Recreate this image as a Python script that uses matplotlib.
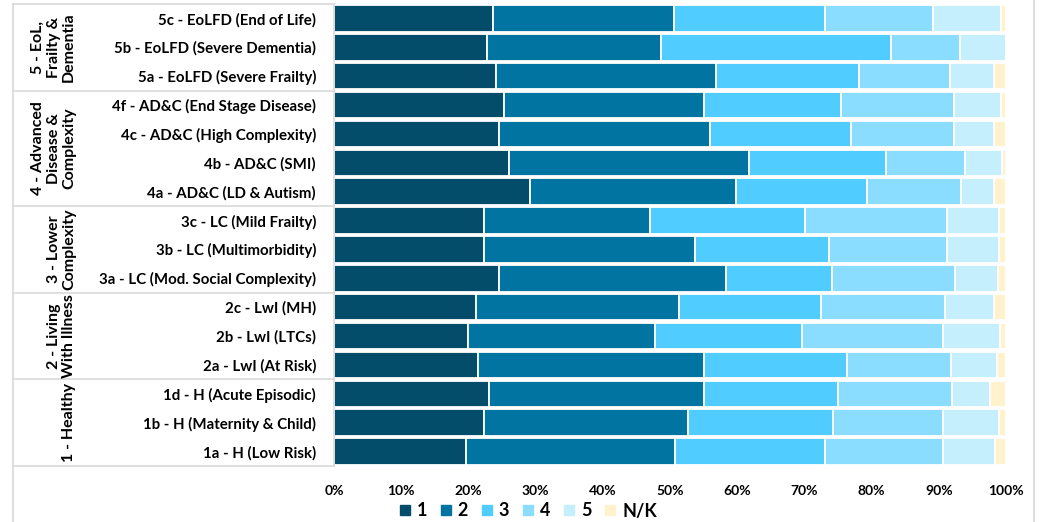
import numpy as np
import matplotlib.pyplot as plt
from matplotlib.lines import Line2D

plt.rcParams['font.family'] = ['Lato', 'DejaVu Sans']
plt.rcParams['font.weight'] = 'bold'

# rows from top to bottom
categories = ['5c - EoLFD (End of Life)', '5b - EoLFD (Severe Dementia)', '5a - EoLFD (Severe Frailty)',
              '4f - AD&C (End Stage Disease)', '4c - AD&C (High Complexity)', '4b - AD&C (SMI)',
              '4a - AD&C (LD & Autism)', '3c - LC (Mild Frailty)', '3b - LC (Multimorbidity)',
              '3a - LC (Mod. Social Complexity)', '2c - LwI (MH)', '2b - LwI (LTCs)', '2a - LwI (At Risk)',
              '1d - H (Acute Episodic)', '1b - H (Maternity & Child)', '1a - H (Low Risk)']

s1 = [23.6, 22.8, 24.1, 25.3, 24.5, 26.1, 29.2, 22.4, 22.4, 24.6, 21.2, 20.0, 21.4, 23.0, 22.4, 19.7]
s2 = [27.0, 25.8, 32.7, 29.7, 31.4, 35.6, 30.6, 24.6, 31.3, 33.8, 30.2, 27.8, 33.6, 32.0, 30.3, 31.0]
s3 = [22.5, 34.3, 21.3, 20.4, 21.1, 20.5, 19.5, 23.1, 20.0, 15.7, 21.0, 21.9, 21.4, 20.0, 21.5, 22.3]
s4 = [16.1, 10.3, 13.6, 16.9, 15.2, 11.7, 14.0, 21.1, 17.5, 18.3, 18.5, 20.9, 15.4, 17.0, 16.4, 17.6]
s5 = [10.0, 6.8, 6.5, 7.0, 6.0, 5.5, 4.9, 7.8, 7.7, 6.4, 7.3, 8.5, 6.8, 5.6, 8.3, 7.8]
snk = [0.8, 0.0, 1.8, 0.7, 1.8, 0.6, 1.8, 1.0, 1.1, 1.2, 1.8, 0.9, 1.4, 2.4, 1.1, 1.6]

series_names = ['1', '2', '3', '4', '5', 'N/K']
colors = ['#034D6B', '#0174A1', '#50CDFE', '#8ADDFE', '#C6EFFE', '#FFF2CC']

groups = ['5 - EoL,\nFrailty &\nDementia', '4 - Advanced\nDisease &\nComplexity',
          '3 - Lower\nComplexity', '2 - Living\nWith Illness', '1 - Healthy']
group_sizes = [3, 4, 3, 3, 3]

fig = plt.figure(figsize=(10.43, 5.22), dpi=100)
ax = fig.add_axes([0.3202, 0.1073, 0.6443, 0.885])

y = np.arange(len(categories))
left = np.zeros(len(categories))
for vals, name, c in zip([s1, s2, s3, s4, s5, snk], series_names, colors):
    v = np.array(vals) / 100
    ax.barh(y, v, left=left, height=0.92, color=c, edgecolor='white', linewidth=1.3, label=name)
    left += v

ax.set_xlim(0, 1)
ax.set_ylim(len(categories) - 0.5, -0.5)
ax.set_xticks(np.arange(0, 1.01, 0.1))
ax.set_xticklabels([f'{int(round(t * 100))}%' for t in np.arange(0, 1.01, 0.1)], fontsize=10, fontweight='bold')
ax.set_yticks(y)
ax.set_yticklabels(categories, fontsize=10.8, fontweight='bold')
ax.tick_params(axis='both', length=0)
ax.tick_params(axis='y', pad=13)
ax.tick_params(axis='x', pad=14)
for side in ['top', 'right', 'bottom']:
    ax.spines[side].set_visible(False)
ax.spines['left'].set_color('#D9D9D9')
ax.spines['left'].set_linewidth(1.2)

# group boxes and labels on the left
tr = ax.get_yaxis_transform()
x_edge = -0.478
ax.plot([x_edge, 0], [-0.5, -0.5], transform=tr, color='#D9D9D9', lw=1.2, clip_on=False)
start = -0.5
for g, n in zip(groups, group_sizes):
    end = start + n
    ax.plot([x_edge, 0], [end, end], transform=tr, color='#D9D9D9', lw=1.2, clip_on=False)
    ax.text(-0.384, (start + end) / 2, g, transform=tr, rotation=90, ha='right', va='center',
            ma='center', fontsize=11.5, fontweight='bold', linespacing=1.12)
    start = end

# outer frame lines
fig.add_artist(Line2D([13 / 1043, 13 / 1043], [0, 1 - 4 / 522], color='#D9D9D9', lw=1.2))
fig.add_artist(Line2D([1034 / 1043, 1034 / 1043], [0, 1], color='#D9D9D9', lw=1.2))

handles = [Line2D([], [], marker='s', linestyle='none', markersize=7, color=c) for c in colors]
fig.legend(handles, series_names, loc='center', bbox_to_anchor=(528 / 1043, 1 - 511 / 522), ncol=6,
           frameon=False, prop={'size': 13, 'weight': 'bold'}, handlelength=0.6, handletextpad=0.35,
           columnspacing=0.75, borderaxespad=0, borderpad=0)

fig.savefig('out.png', dpi=100)
